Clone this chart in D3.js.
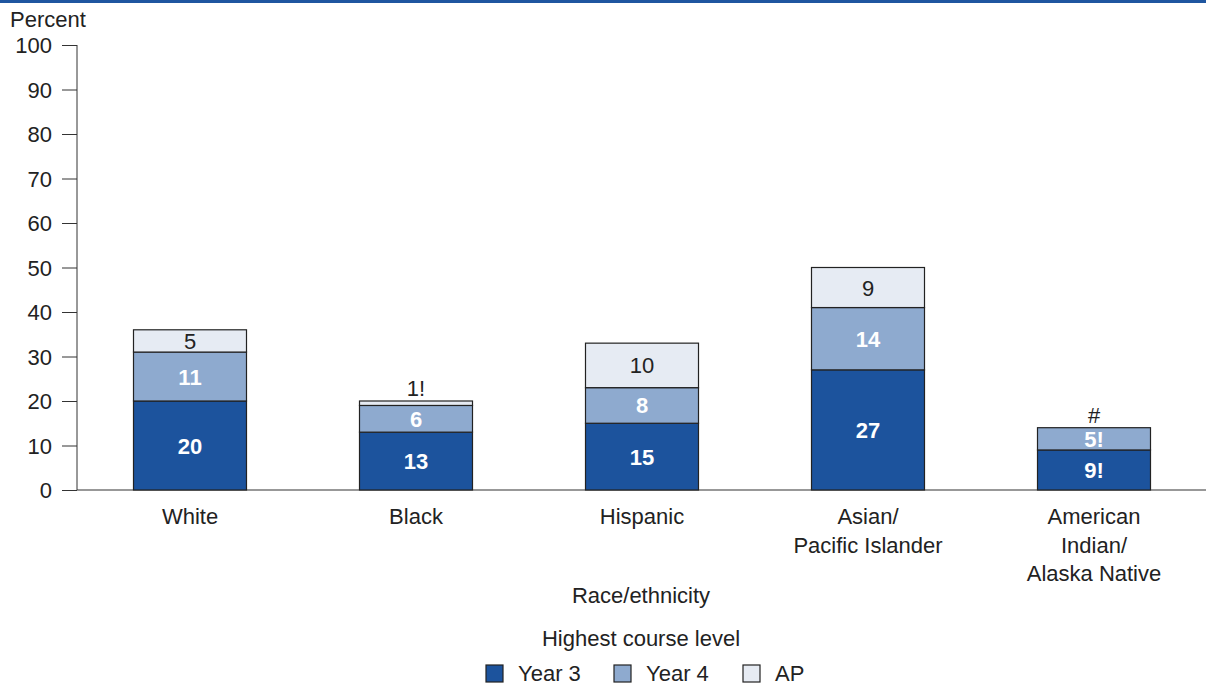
<!DOCTYPE html>
<html><head><meta charset="utf-8">
<script src="https://cdn.jsdelivr.net/npm/d3@7"></script>
<style>body{margin:0;background:#fff}svg{display:block;font-family:"Liberation Sans",Arial,sans-serif}</style>
</head><body><svg id="c" width="1206" height="686"></svg>
<script>
const categories = [["White"],["Black"],["Hispanic"],["Asian/","Pacific Islander"],["American","Indian/","Alaska Native"]];
const seriesNames = ["Year 3","Year 4","AP"];
const year3 = [20,13,15,27,9];
const year4 = [11,6,8,14,5];
const ap = [5,1,10,9,0];
const year3Labels = ["20","13","15","27","9!"];
const year4Labels = ["11","6","8","14","5!"];
const apLabels = ["5","1!","10","9","#"];
const yTicks = [0,10,20,30,40,50,60,70,80,90,100];
const colors = ["#1c539d","#8eaacf","#e6ebf3"];
const FS = 22;

const svg = d3.select("#c");
svg.append("rect").attr("x",0).attr("y",0).attr("width",1206).attr("height",3).attr("fill","#1f56a0");

const y = d3.scaleLinear().domain([0,100]).range([490,45]);
const x = d3.scaleBand().domain(d3.range(categories.length)).range([77,1207]).paddingInner(0.5).paddingOuter(0.25);

const yAxis = d3.axisLeft(y).tickValues(yTicks).tickSize(15).tickPadding(10);
const ga = svg.append("g").attr("transform","translate(77,0)").call(yAxis);
ga.attr("font-family",null).attr("font-size",null);
ga.select(".domain").attr("stroke","#333").attr("d","M0,45V490");
ga.selectAll(".tick line").attr("stroke","#333");
ga.selectAll(".tick text").attr("font-size",FS).attr("fill","#222").attr("dy","0.35em");

svg.append("line").attr("x1",77).attr("x2",1206).attr("y1",490).attr("y2",490).attr("stroke","#333").attr("stroke-width",1.2);

svg.append("text").attr("x",10).attr("y",27).attr("font-size",FS).attr("fill","#222").text("Percent");

const series = [year3,year4,ap];
const labels = [year3Labels,year4Labels,apLabels];
categories.forEach((c,i)=>{
  let base = 0;
  series.forEach((s,k)=>{
    const v = s[i];
    if (v>0) {
      svg.append("rect").attr("x",x(i)).attr("width",x.bandwidth())
        .attr("y",y(base+v)).attr("height",y(base)-y(base+v))
        .attr("fill",colors[k]).attr("stroke","#222").attr("stroke-width",1.2);
    }
    const h = y(base)-y(base+v);
    let ty, fill = k<2 ? "#fff" : "#222", weight = k<2 ? "bold" : "normal";
    if (h >= 18) ty = (y(base)+y(base+v))/2 + 8;
    else { ty = y(base+v) - 5; fill="#222"; weight="normal"; }
    svg.append("text").attr("x",x(i)+x.bandwidth()/2).attr("y",ty)
      .attr("text-anchor","middle").attr("font-size",FS).attr("font-weight",weight)
      .attr("fill",fill).text(labels[k][i]);
    base += v;
  });
  c.forEach((line,j)=>{
    svg.append("text").attr("x",x(i)+x.bandwidth()/2).attr("y",524+j*28.5)
      .attr("text-anchor","middle").attr("font-size",FS).attr("fill","#222").text(line);
  });
});

svg.append("text").attr("x",641).attr("y",603).attr("text-anchor","middle").attr("font-size",FS).attr("fill","#222").text("Race/ethnicity");
svg.append("text").attr("x",641).attr("y",646).attr("text-anchor","middle").attr("font-size",FS).attr("fill","#222").text("Highest course level");

const legX = [486,614,743];
seriesNames.forEach((n,k)=>{
  svg.append("rect").attr("x",legX[k]).attr("y",665).attr("width",17).attr("height",17)
    .attr("fill",colors[k]).attr("stroke","#222").attr("stroke-width",1.2);
  svg.append("text").attr("x",legX[k]+32).attr("y",681).attr("font-size",FS).attr("fill","#222").text(n);
});
</script></body></html>
